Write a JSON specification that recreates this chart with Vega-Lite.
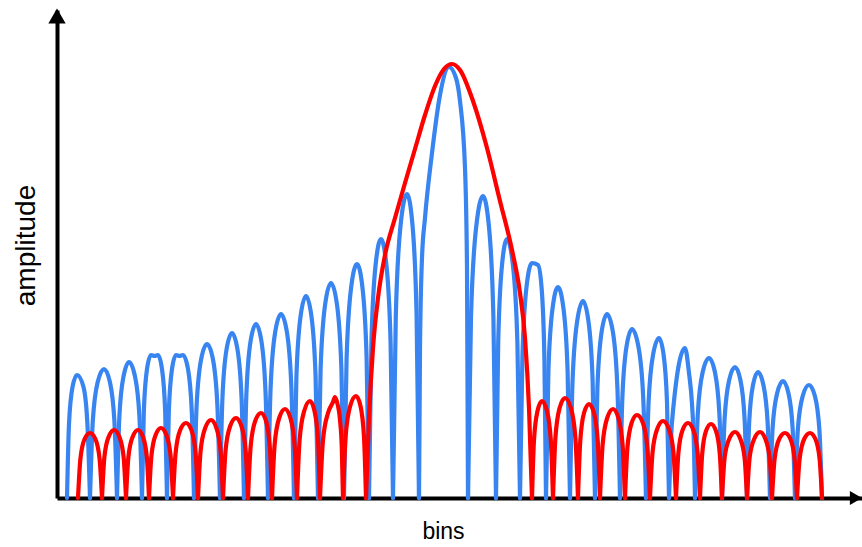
{
  "$schema": "https://vega.github.io/schema/vega-lite/v6.json",
  "autosize": "none",
  "width": 805,
  "height": 488,
  "padding": {"left": 57, "top": 10, "right": 0, "bottom": 49},
  "background": "white",
  "config": {"view": {"stroke": null}},
  "datasets": {
    "blue": [
      {"l":1,"x":67,"y":0},{"l":1,"x":69,"y":74},{"l":1,"x":72.5,"y":111},{"l":1,"x":77,"y":123},{"l":1,"x":83.5,"y":111},{"l":1,"x":87.4,"y":74},{"l":1,"x":90,"y":0},
      {"l":2,"x":90,"y":0},{"l":2,"x":92.8,"y":77},{"l":2,"x":97.7,"y":116},{"l":2,"x":104,"y":129},{"l":2,"x":109.9,"y":116},{"l":2,"x":114.4,"y":77},{"l":2,"x":117,"y":0},
      {"l":3,"x":117,"y":0},{"l":3,"x":119.4,"y":82},{"l":3,"x":123.6,"y":122},{"l":3,"x":129,"y":136},{"l":3,"x":134.9,"y":122},{"l":3,"x":139.4,"y":82},{"l":3,"x":142,"y":0},
      {"l":4,"x":142,"y":0},{"l":4,"x":143.8,"y":86},{"l":4,"x":147,"y":129},{"l":4,"x":151,"y":143},{"l":4,"x":154.5,"y":142},{"l":4,"x":158,"y":143},{"l":4,"x":162,"y":129},{"l":4,"x":165.2,"y":86},{"l":4,"x":167,"y":0},
      {"l":5,"x":167,"y":0},{"l":5,"x":168.8,"y":86},{"l":5,"x":172,"y":129},{"l":5,"x":176,"y":143},{"l":5,"x":179.5,"y":142},{"l":5,"x":183,"y":143},{"l":5,"x":188,"y":129},{"l":5,"x":191.8,"y":86},{"l":5,"x":194,"y":0},
      {"l":6,"x":194,"y":0},{"l":6,"x":196.6,"y":92},{"l":6,"x":201.2,"y":139},{"l":6,"x":207,"y":154},{"l":6,"x":212.9,"y":139},{"l":6,"x":217.4,"y":92},{"l":6,"x":220,"y":0},
      {"l":7,"x":220,"y":0},{"l":7,"x":222.4,"y":99},{"l":7,"x":226.6,"y":149},{"l":7,"x":232,"y":165},{"l":7,"x":237.4,"y":149},{"l":7,"x":241.6,"y":99},{"l":7,"x":244,"y":0},
      {"l":8,"x":244,"y":0},{"l":8,"x":246.4,"y":104},{"l":8,"x":250.6,"y":157},{"l":8,"x":256,"y":174},{"l":8,"x":261.4,"y":157},{"l":8,"x":265.6,"y":104},{"l":8,"x":268,"y":0},
      {"l":9,"x":268,"y":0},{"l":9,"x":270.6,"y":110},{"l":9,"x":275.2,"y":166},{"l":9,"x":281,"y":184},{"l":9,"x":286.9,"y":166},{"l":9,"x":291.4,"y":110},{"l":9,"x":294,"y":0},
      {"l":10,"x":294,"y":0},{"l":10,"x":296.4,"y":121},{"l":10,"x":300.6,"y":182},{"l":10,"x":306,"y":202},{"l":10,"x":311.4,"y":182},{"l":10,"x":315.6,"y":121},{"l":10,"x":318,"y":0},
      {"l":11,"x":318,"y":0},{"l":11,"x":320.6,"y":129},{"l":11,"x":325.2,"y":194},{"l":11,"x":331,"y":215},{"l":11,"x":336.9,"y":194},{"l":11,"x":341.4,"y":129},{"l":11,"x":344,"y":0},
      {"l":12,"x":344,"y":0},{"l":12,"x":346.6,"y":140},{"l":12,"x":351.2,"y":211},{"l":12,"x":357,"y":234},{"l":12,"x":362.4,"y":211},{"l":12,"x":366.6,"y":140},{"l":12,"x":369,"y":0},
      {"l":13,"x":369,"y":0},{"l":13,"x":371.4,"y":155},{"l":13,"x":375.6,"y":233},{"l":13,"x":381,"y":259},{"l":13,"x":386.4,"y":233},{"l":13,"x":390.6,"y":155},{"l":13,"x":393,"y":0},
      {"l":14,"x":393,"y":0},{"l":14,"x":395.8,"y":182},{"l":14,"x":400.7,"y":274},{"l":14,"x":407,"y":304},{"l":14,"x":412.4,"y":274},{"l":14,"x":416.6,"y":182},{"l":14,"x":419,"y":0},
      {"l":15,"x":419,"y":0},{"l":15,"x":420,"y":150},{"l":15,"x":422,"y":240},{"l":15,"x":425,"y":280},{"l":15,"x":432,"y":345},{"l":15,"x":440,"y":403},{"l":15,"x":449,"y":431},{"l":15,"x":456,"y":420},{"l":15,"x":460,"y":397},{"l":15,"x":465,"y":330},{"l":15,"x":467,"y":230},{"l":15,"x":468,"y":0},
      {"l":16,"x":468,"y":0},{"l":16,"x":471,"y":181},{"l":16,"x":476.3,"y":272},{"l":16,"x":483,"y":302},{"l":16,"x":488.9,"y":272},{"l":16,"x":493.4,"y":181},{"l":16,"x":496,"y":0},
      {"l":17,"x":496,"y":0},{"l":17,"x":498.2,"y":155},{"l":17,"x":502,"y":233},{"l":17,"x":507,"y":259},{"l":17,"x":512.9,"y":233},{"l":17,"x":517.4,"y":155},{"l":17,"x":520,"y":0},
      {"l":18,"x":520,"y":0},{"l":18,"x":522.4,"y":141},{"l":18,"x":526.6,"y":212},{"l":18,"x":532,"y":235},{"l":18,"x":538,"y":233},{"l":18,"x":541.6,"y":210},{"l":18,"x":544.4,"y":140},{"l":18,"x":546,"y":0},
      {"l":19,"x":546,"y":0},{"l":19,"x":548.4,"y":127},{"l":19,"x":552.6,"y":190},{"l":19,"x":558,"y":211},{"l":19,"x":563.4,"y":190},{"l":19,"x":567.6,"y":127},{"l":19,"x":570,"y":0},
      {"l":20,"x":570,"y":0},{"l":20,"x":572.6,"y":118},{"l":20,"x":577.2,"y":177},{"l":20,"x":583,"y":197},{"l":20,"x":588.4,"y":177},{"l":20,"x":592.6,"y":118},{"l":20,"x":595,"y":0},
      {"l":21,"x":595,"y":0},{"l":21,"x":597.4,"y":110},{"l":21,"x":601.6,"y":166},{"l":21,"x":607,"y":184},{"l":21,"x":612.9,"y":166},{"l":21,"x":617.4,"y":110},{"l":21,"x":620,"y":0},
      {"l":22,"x":620,"y":0},{"l":22,"x":622.4,"y":101},{"l":22,"x":626.6,"y":152},{"l":22,"x":632,"y":169},{"l":22,"x":638.3,"y":152},{"l":22,"x":643.2,"y":101},{"l":22,"x":646,"y":0},
      {"l":23,"x":646,"y":0},{"l":23,"x":648.6,"y":96},{"l":23,"x":653.2,"y":144},{"l":23,"x":659,"y":160},{"l":23,"x":663.5,"y":144},{"l":23,"x":667,"y":96},{"l":23,"x":669,"y":0},
      {"l":24,"x":669,"y":0},{"l":24,"x":671,"y":60},{"l":24,"x":673,"y":87},{"l":24,"x":685,"y":150},{"l":24,"x":689,"y":125},{"l":24,"x":692,"y":94},{"l":24,"x":694,"y":50},{"l":24,"x":695,"y":0},
      {"l":25,"x":695,"y":0},{"l":25,"x":697.8,"y":84},{"l":25,"x":702.7,"y":126},{"l":25,"x":709,"y":140},{"l":25,"x":714.9,"y":126},{"l":25,"x":719.4,"y":84},{"l":25,"x":722,"y":0},
      {"l":26,"x":722,"y":0},{"l":26,"x":724.6,"y":79},{"l":26,"x":729.2,"y":118},{"l":26,"x":735,"y":131},{"l":26,"x":740.4,"y":118},{"l":26,"x":744.6,"y":79},{"l":26,"x":747,"y":0},
      {"l":27,"x":747,"y":0},{"l":27,"x":749.2,"y":76},{"l":27,"x":753,"y":113},{"l":27,"x":758,"y":126},{"l":27,"x":763.4,"y":113},{"l":27,"x":767.6,"y":76},{"l":27,"x":770,"y":0},
      {"l":28,"x":770,"y":0},{"l":28,"x":772.6,"y":70},{"l":28,"x":777.2,"y":105},{"l":28,"x":783,"y":117},{"l":28,"x":788.4,"y":105},{"l":28,"x":792.6,"y":70},{"l":28,"x":795,"y":0},
      {"l":29,"x":795,"y":0},{"l":29,"x":797.8,"y":68},{"l":29,"x":802.7,"y":102},{"l":29,"x":809,"y":113},{"l":29,"x":814.9,"y":102},{"l":29,"x":819.4,"y":68},{"l":29,"x":822,"y":0}
    ],
    "red": [
      {"l":1,"x":78,"y":0},{"l":1,"x":80.4,"y":39},{"l":1,"x":84.6,"y":59},{"l":1,"x":90,"y":65},{"l":1,"x":95.4,"y":59},{"l":1,"x":99.6,"y":39},{"l":1,"x":102,"y":0},
      {"l":2,"x":102,"y":0},{"l":2,"x":104.4,"y":41},{"l":2,"x":108.6,"y":61},{"l":2,"x":114,"y":68},{"l":2,"x":119.4,"y":61},{"l":2,"x":123.6,"y":41},{"l":2,"x":126,"y":0},
      {"l":3,"x":126,"y":0},{"l":3,"x":128.4,"y":41},{"l":3,"x":132.6,"y":61},{"l":3,"x":138,"y":68},{"l":3,"x":143,"y":61},{"l":3,"x":146.8,"y":41},{"l":3,"x":149,"y":0},
      {"l":4,"x":149,"y":0},{"l":4,"x":151.4,"y":42},{"l":4,"x":155.6,"y":63},{"l":4,"x":161,"y":70},{"l":4,"x":166.4,"y":63},{"l":4,"x":170.6,"y":42},{"l":4,"x":173,"y":0},
      {"l":5,"x":173,"y":0},{"l":5,"x":175.6,"y":45},{"l":5,"x":180.2,"y":68},{"l":5,"x":186,"y":75},{"l":5,"x":191.4,"y":68},{"l":5,"x":195.6,"y":45},{"l":5,"x":198,"y":0},
      {"l":6,"x":198,"y":0},{"l":6,"x":200.6,"y":47},{"l":6,"x":205.2,"y":70},{"l":6,"x":211,"y":78},{"l":6,"x":216.4,"y":70},{"l":6,"x":220.6,"y":47},{"l":6,"x":223,"y":0},
      {"l":7,"x":223,"y":0},{"l":7,"x":225.6,"y":48},{"l":7,"x":230.2,"y":72},{"l":7,"x":236,"y":80},{"l":7,"x":241.4,"y":72},{"l":7,"x":245.6,"y":48},{"l":7,"x":248,"y":0},
      {"l":8,"x":248,"y":0},{"l":8,"x":250.6,"y":51},{"l":8,"x":255.2,"y":77},{"l":8,"x":261,"y":85},{"l":8,"x":266,"y":77},{"l":8,"x":269.8,"y":51},{"l":8,"x":272,"y":0},
      {"l":9,"x":272,"y":0},{"l":9,"x":274.6,"y":53},{"l":9,"x":279.2,"y":80},{"l":9,"x":285,"y":89},{"l":9,"x":290.4,"y":80},{"l":9,"x":294.6,"y":53},{"l":9,"x":297,"y":0},
      {"l":10,"x":297,"y":0},{"l":10,"x":299.6,"y":58},{"l":10,"x":304.2,"y":87},{"l":10,"x":310,"y":97},{"l":10,"x":314.5,"y":87},{"l":10,"x":318,"y":58},{"l":10,"x":320,"y":0},
      {"l":11,"x":320,"y":0},{"l":11,"x":323,"y":58},{"l":11,"x":328,"y":85},{"l":11,"x":333,"y":96},{"l":11,"x":335,"y":101},{"l":11,"x":337,"y":96},{"l":11,"x":340,"y":78},{"l":11,"x":341.8,"y":50},{"l":11,"x":343,"y":0},
      {"l":12,"x":343,"y":0},{"l":12,"x":345.6,"y":61},{"l":12,"x":350.2,"y":92},{"l":12,"x":356,"y":102},{"l":12,"x":360.5,"y":92},{"l":12,"x":364,"y":61},{"l":12,"x":366,"y":0},
      {"l":13,"x":366,"y":0},{"l":13,"x":369,"y":80},{"l":13,"x":373,"y":150},{"l":13,"x":378,"y":200},{"l":13,"x":385,"y":243},{"l":13,"x":395,"y":280},{"l":13,"x":405,"y":315},{"l":13,"x":415,"y":349},{"l":13,"x":425,"y":383},{"l":13,"x":435,"y":412},{"l":13,"x":444,"y":429},{"l":13,"x":452,"y":434},{"l":13,"x":460,"y":428},{"l":13,"x":473,"y":397},{"l":13,"x":487,"y":350},{"l":13,"x":500,"y":297},{"l":13,"x":512,"y":248},{"l":13,"x":520,"y":205},{"l":13,"x":525,"y":160},{"l":13,"x":529,"y":90},{"l":13,"x":532,"y":0},
      {"l":14,"x":532,"y":0},{"l":14,"x":534,"y":58},{"l":14,"x":537.5,"y":87},{"l":14,"x":542,"y":97},{"l":14,"x":547,"y":87},{"l":14,"x":550.8,"y":58},{"l":14,"x":553,"y":0},
      {"l":15,"x":553,"y":0},{"l":15,"x":555.4,"y":60},{"l":15,"x":559.6,"y":90},{"l":15,"x":565,"y":100},{"l":15,"x":570.9,"y":90},{"l":15,"x":575.4,"y":60},{"l":15,"x":578,"y":0},
      {"l":16,"x":578,"y":0},{"l":16,"x":580.2,"y":56},{"l":16,"x":584,"y":85},{"l":16,"x":589,"y":94},{"l":16,"x":594,"y":85},{"l":16,"x":597.8,"y":56},{"l":16,"x":600,"y":0},
      {"l":17,"x":600,"y":0},{"l":17,"x":602.6,"y":53},{"l":17,"x":607.2,"y":80},{"l":17,"x":613,"y":89},{"l":17,"x":618.4,"y":80},{"l":17,"x":622.6,"y":53},{"l":17,"x":625,"y":0},
      {"l":18,"x":625,"y":0},{"l":18,"x":627.4,"y":50},{"l":18,"x":631.6,"y":75},{"l":18,"x":637,"y":83},{"l":18,"x":642.9,"y":75},{"l":18,"x":647.4,"y":50},{"l":18,"x":650,"y":0},
      {"l":19,"x":650,"y":0},{"l":19,"x":652.6,"y":46},{"l":19,"x":657.2,"y":69},{"l":19,"x":663,"y":77},{"l":19,"x":668.9,"y":69},{"l":19,"x":673.4,"y":46},{"l":19,"x":676,"y":0},
      {"l":20,"x":676,"y":0},{"l":20,"x":678.4,"y":45},{"l":20,"x":682.6,"y":68},{"l":20,"x":688,"y":75},{"l":20,"x":693.4,"y":68},{"l":20,"x":697.6,"y":45},{"l":20,"x":700,"y":0},
      {"l":21,"x":700,"y":0},{"l":21,"x":702.2,"y":44},{"l":21,"x":706,"y":67},{"l":21,"x":711,"y":74},{"l":21,"x":716,"y":67},{"l":21,"x":719.8,"y":44},{"l":21,"x":722,"y":0},
      {"l":22,"x":722,"y":0},{"l":22,"x":724.6,"y":40},{"l":22,"x":729.2,"y":59},{"l":22,"x":735,"y":66},{"l":22,"x":740.4,"y":59},{"l":22,"x":744.6,"y":40},{"l":22,"x":747,"y":0},
      {"l":23,"x":747,"y":0},{"l":23,"x":749.6,"y":40},{"l":23,"x":754.2,"y":59},{"l":23,"x":760,"y":66},{"l":23,"x":765.4,"y":59},{"l":23,"x":769.6,"y":40},{"l":23,"x":772,"y":0},
      {"l":24,"x":772,"y":0},{"l":24,"x":774.6,"y":39},{"l":24,"x":779.2,"y":59},{"l":24,"x":785,"y":65},{"l":24,"x":790.4,"y":59},{"l":24,"x":794.6,"y":39},{"l":24,"x":797,"y":0},
      {"l":25,"x":797,"y":0},{"l":25,"x":799.6,"y":39},{"l":25,"x":804.2,"y":59},{"l":25,"x":810,"y":65},{"l":25,"x":815.4,"y":59},{"l":25,"x":819.6,"y":39},{"l":25,"x":822,"y":0}
    ],
    "arrows": [
      {"dir":"up","x":57,"y":482},
      {"dir":"right","x":856,"y":0}
    ]
  },
  "layer": [
    {
      "data": {"name": "blue"},
      "mark": {"type": "line", "interpolate": "monotone", "color": "#3884f0", "strokeWidth": 4.2, "strokeCap": "round", "strokeJoin": "round"},
      "encoding": {
        "x": {"field": "x", "type": "quantitative", "scale": {"domain": [57, 862], "nice": false, "zero": false},
              "axis": {"title": "bins", "ticks": false, "labels": false, "grid": false, "domainColor": "black", "domainWidth": 4,
                       "titleFont": "Liberation Sans", "titleFontSize": 23, "titleFontWeight": "normal", "titleColor": "black",
                       "titleX": 386, "titleY": 40, "titleAlign": "center", "titleBaseline": "alphabetic"}},
        "y": {"field": "y", "type": "quantitative", "scale": {"domain": [0, 488], "nice": false},
              "axis": {"title": "amplitude", "ticks": false, "labels": false, "grid": false, "domainColor": "black", "domainWidth": 4,
                       "titleFont": "Liberation Sans", "titleFontSize": 28, "titleFontWeight": "normal", "titleColor": "black",
                       "titleAngle": -90, "titleX": -23, "titleY": 235, "titleAlign": "center", "titleBaseline": "alphabetic"}},
        "detail": {"field": "l", "type": "nominal"}
      }
    },
    {
      "data": {"name": "red"},
      "mark": {"type": "line", "interpolate": "monotone", "color": "#ff0000", "strokeWidth": 4.2, "strokeCap": "round", "strokeJoin": "round"},
      "encoding": {
        "x": {"field": "x", "type": "quantitative"},
        "y": {"field": "y", "type": "quantitative"},
        "detail": {"field": "l", "type": "nominal"}
      }
    },
    {
      "data": {"name": "arrows"},
      "mark": {"type": "point", "filled": true, "color": "black", "opacity": 1, "strokeWidth": 0},
      "encoding": {
        "x": {"field": "x", "type": "quantitative"},
        "y": {"field": "y", "type": "quantitative"},
        "shape": {"field": "dir", "type": "nominal", "scale": {"domain": ["up", "right"], "range": ["triangle-up", "triangle-right"]}, "legend": null},
        "size": {"field": "dir", "type": "nominal", "scale": {"domain": ["up", "right"], "range": [300, 200]}, "legend": null}
      }
    }
  ]
}
